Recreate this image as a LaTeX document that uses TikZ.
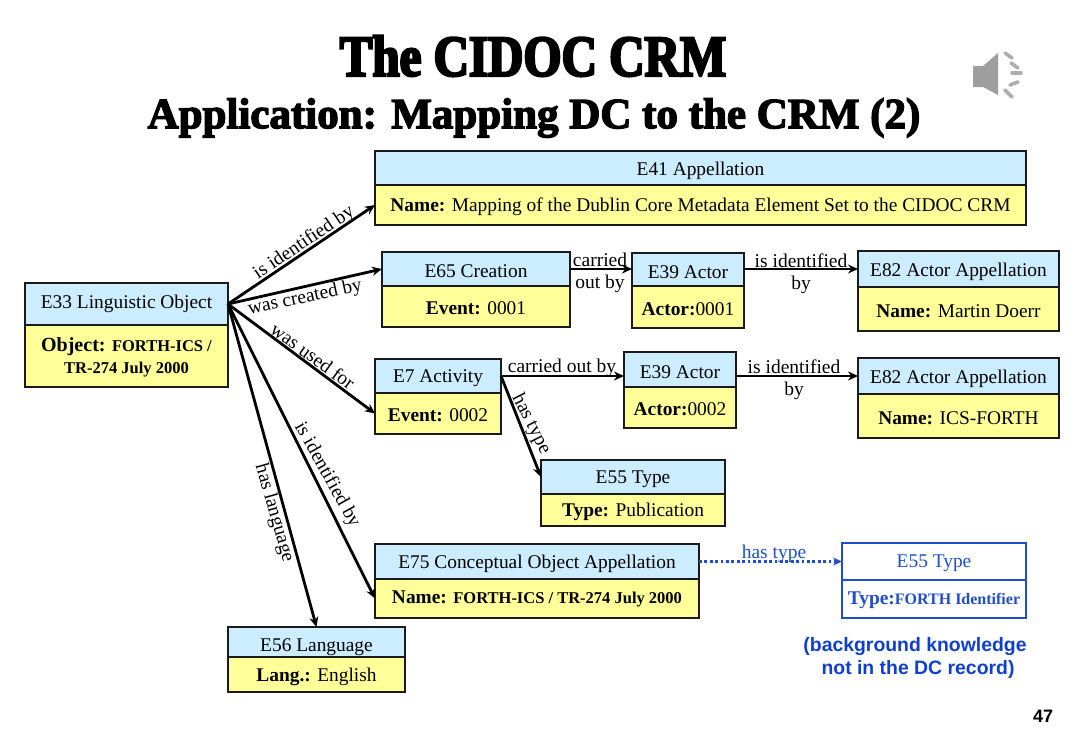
\documentclass[tikz,border=0pt]{standalone}
\usepackage{fontspec}
\setmainfont{Liberation Serif}
\newfontfamily\titlefont[FakeBold=4,FakeStretch=0.845]{Liberation Serif Bold}
\newfontfamily\subfont[FakeBold=3.2,FakeStretch=1.0]{Liberation Serif Bold}
\newfontfamily\arialfont{Liberation Sans}
\usetikzlibrary{arrows.meta}
\definecolor{hdrblue}{HTML}{CCECFF}
\definecolor{bodyyellow}{HTML}{FFFF99}
\definecolor{edgeink}{HTML}{1A1A1A}
\definecolor{bkblue}{HTML}{1F4FC8}
\definecolor{bktext}{HTML}{0F3FD0}
\newcommand{\smallbf}{\bfseries\fontsize{16.5}{19}\selectfont}
\newcommand{\nudge}[2]{\raisebox{#1}[\height][\depth]{#2}}
\tikzset{
  x=1pt,y=-1pt,
  cell/.style={draw=edgeink,line width=1.5pt,inner sep=0pt,outer sep=0pt,anchor=north west,align=center,font=\fontsize{19.4}{22}\selectfont,text=black},
  bodyc/.style={cell,fill=bodyyellow},
  bluecell/.style={draw=bkblue,line width=1.5pt,inner sep=0pt,outer sep=0pt,anchor=north west,align=center,fill=white,text=bkblue,font=\fontsize{19.4}{22}\selectfont},
  conn/.style={draw=black,line width=2.8pt,-{Stealth[length=10pt,width=9pt]}},
  lab/.style={font=\fontsize{19.5}{22}\selectfont,inner sep=0pt,align=center,text=black},
  speaker/.style={fill=black!38,draw=none},
  wave/.style={draw=black!32,line width=3.6pt,line cap=round},
}
\newcommand{\crmbox}[8]{%
  \node[cell,fill=hdrblue,minimum width=#4pt,minimum height=#5pt] (#1h) at (#2,#3) {\nudge{-2.5pt}{#7}};
  \node[bodyc,minimum width=#4pt,minimum height=#6pt] (#1b) at (#1h.south west) {\nudge{-2pt}{#8}};
}
\begin{document}
\begin{tikzpicture}
\useasboundingbox[fill=white] (0,0) rectangle (1083,750);
% title
\node[font=\titlefont\fontsize{58}{62}\selectfont,inner sep=0pt] (title) at (533,56) {The CIDOC CRM};
\node[font=\subfont\fontsize{43}{48}\selectfont,inner sep=0pt] (subtitle) at (534,118) {Application: Mapping DC to the CRM (2)};
% speaker icon
\fill[speaker] (973,66) -- (983,66) -- (998,53) -- (998,95) -- (983,87) -- (973,87) -- cycle;
\draw[wave] (1005,53) -- (1012,58);
\draw[wave] (1011,63) -- (1018,68);
\draw[wave] (1012,73) -- (1021,73);
\draw[wave] (1010,85) -- (1018,82);
\draw[wave] (1005,90) -- (1012,97);
% boxes
\crmbox{efortyone}{375}{151}{651}{34}{40}{E41 Appellation}{\textbf{Name:} Mapping of the Dublin Core Metadata Element Set to the CIDOC CRM}
\crmbox{ling}{25}{283}{203}{42}{62}{\nudge{2.5pt}{E33 Linguistic Object}}{\begin{tabular}{@{}c@{}}\textbf{\fontsize{20}{24}\selectfont Object:} \smallbf FORTH-ICS /\\[0pt]\smallbf TR-274 July 2000\end{tabular}}
\crmbox{creation}{382}{252}{188}{34}{41}{E65 Creation}{\textbf{Event:} 0001}
\crmbox{actora}{632}{253}{112}{33}{42}{E39 Actor}{\textbf{Actor:}0001}
\crmbox{appa}{858}{251}{201}{36}{44}{E82 Actor Appellation}{\textbf{Name:} Martin Doerr}
\crmbox{activity}{375}{359}{126}{34}{41}{E7 Activity}{\textbf{Event:} 0002}
\crmbox{actorb}{624}{352}{112}{35}{41}{E39 Actor}{\textbf{Actor:}0002}
\crmbox{appb}{858}{358}{201}{36}{44}{E82 Actor Appellation}{\textbf{Name:} ICS-FORTH}
\crmbox{typea}{541}{460}{184}{34}{32}{E55 Type}{\textbf{Type:} Publication}
\crmbox{concept}{375}{544}{324}{35}{39}{E75 Conceptual Object Appellation}{\nudge{2pt}{\textbf{Name:} \smallbf FORTH-ICS / TR-274 July 2000}}
\crmbox{lang}{228}{627}{177}{30}{35}{\nudge{-2.5pt}{E56 Language}}{\textbf{Lang.:} English}
% background-knowledge box
\node[bluecell,minimum width=184pt,minimum height=37pt] (typebh) at (842,543) {\nudge{-2pt}{E55 Type}};
\node[bluecell,minimum width=184pt,minimum height=38pt] (typebb) at (typebh.south west) {\nudge{-1pt}{\textbf{Type:}\bfseries\fontsize{16}{19}\selectfont FORTH Identifier}};
% connectors
\coordinate (src) at (lingh.east);
\draw[conn] (src) -- (efortyoneb.west);
\draw[conn] (src) -- (creationh.west);
\draw[conn] (src) -- (activityb.west);
\draw[conn] (src) -- (conceptb.west);
\draw[conn] (src) -- (langh.north);
\draw[conn] (creationh.east) -- (actorah.west |- creationh.east);
\draw[conn] (actorah.east |- appah.west) -- (appah.west);
\draw[conn] (activityh.east) -- (actorbh.west |- activityh.east);
\draw[conn] (actorbh.east |- appbh.west) -- (appbh.west);
\draw[conn] (activityh.east) -- (typeah.west);
\draw[draw=bkblue,line width=2.8pt,dash pattern=on 2.8pt off 2.6pt,-{Stealth[length=9pt,width=8pt]}] (concepth.east) -- (typebb.west |- concepth.east);
% labels
\node[lab,rotate=34] (l1) at (304,243) {is identified by};
\node[lab,rotate=12] (l2) at (305,298) {was created by};
\node[lab,rotate=-36] (l3) at (313,356) {was used for};
\node[lab,rotate=-61] (l4) at (327,475) {is identified by};
\node[lab,rotate=-74] (l5) at (274,513) {has language};
\node[lab,rotate=-63] (l6) at (531,424) {has type};
\node[lab] (l7) at (600,273) {carried\\out by};
\node[lab] (l8) at (562,368) {carried out by};
\node[lab] (l9) at (801,274) {is identified\\by};
\node[lab] (l10) at (794,380) {is identified\\by};
\node[lab,text=bkblue] (l11) at (774,554) {has type};
\node[font=\arialfont\bfseries\fontsize{19.4}{23}\selectfont,text=bktext,inner sep=0pt,align=center] (note) at (915,658) {(background knowledge\\\hspace{6pt}not in the DC record)};
\node[font=\arialfont\bfseries\fontsize{18}{20}\selectfont,inner sep=0pt] (pg) at (1043,716) {47};
\end{tikzpicture}
\end{document}
